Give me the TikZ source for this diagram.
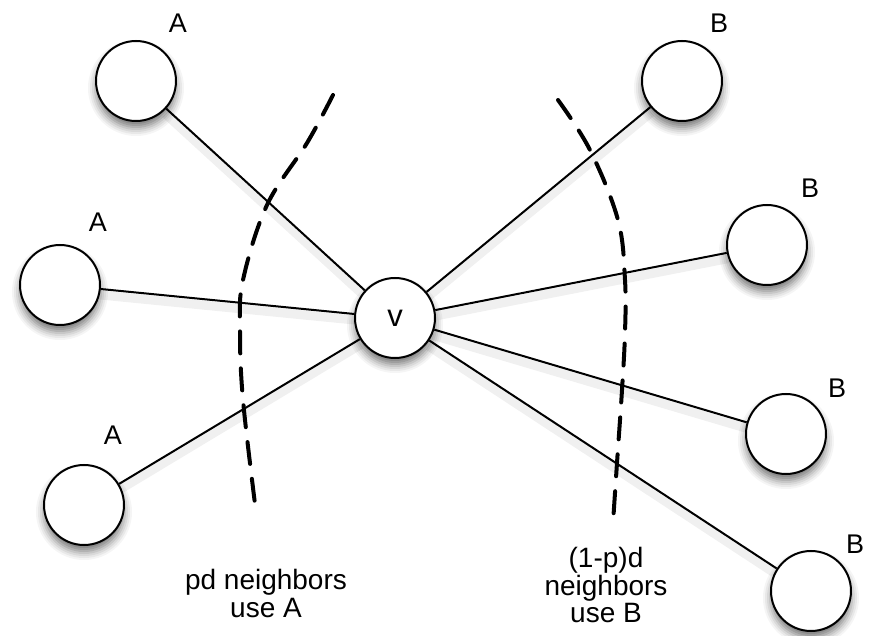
\documentclass[tikz,border=0pt]{standalone}
\usepackage{fontspec}
\setmainfont{Liberation Sans}
\usetikzlibrary{calc}
\begin{document}
\tikzset{
  vertex/.style={circle, draw=black, line width=2pt, fill=white,
    minimum size=80pt, inner sep=0pt, font=\fontsize{31}{31}\selectfont},
  disc/.style={circle, draw=none, inner sep=0pt},
  link/.style={line width=2pt, draw=black},
  linkshadow/.style={line width=9pt, draw=black, opacity=0.06},
  cut/.style={line width=4pt, dash pattern=on 22pt off 15pt, line cap=round},
  tag/.style={font=\fontsize{27}{27}\selectfont, anchor=base, inner sep=0pt},
  caption/.style={font=\fontsize{28}{27.5}\selectfont, align=center,
    inner sep=0pt, anchor=north},
}
\begin{tikzpicture}[x=1pt,y=-1pt]
\useasboundingbox (0,0) rectangle (871,636);

% vertex positions
\coordinate (pv)  at (395,318);
\coordinate (pa1) at (136,81);
\coordinate (pa2) at (60,285);
\coordinate (pa3) at (84,505);
\coordinate (pb1) at (682,81);
\coordinate (pb2) at (767,245);
\coordinate (pb3) at (786,434);
\coordinate (pb4) at (811,591);

% soft shadows under the vertices: nested grey discs, lightest outside
\foreach \p in {pv,pa1,pa2,pa3,pb1,pb2,pb3,pb4}{
  \node[disc, minimum size=96pt, fill=black!4]  (\p-s1) at ($(\p)+(0,7)$) {};
  \node[disc, minimum size=92pt, fill=black!9]  (\p-s2) at ($(\p)+(0,7)$) {};
  \node[disc, minimum size=88pt, fill=black!15] (\p-s3) at ($(\p)+(0,7)$) {};
  \node[disc, minimum size=84pt, fill=black!22] (\p-s4) at ($(\p)+(0,7)$) {};
  \node[disc, minimum size=80pt, fill=black!30] (\p-s5) at ($(\p)+(0,7)$) {};
  \node[disc, minimum size=76pt, fill=black!38] (\p-s6) at ($(\p)+(0,7)$) {};
  \node[disc, minimum size=72pt, fill=black!45] (\p-s7) at ($(\p)+(0,7)$) {};
}

% soft shadows under the edges
\foreach \p in {pa1,pa2,pa3,pb1,pb2,pb3,pb4}{
  \draw[linkshadow, shorten <=40pt, shorten >=40pt,
        transform canvas={yshift=-6pt}] (\p) -- (pv);
}

% central vertex and its neighbours
\node[vertex] (v)  at (pv)  {v};
\node[vertex] (a1) at (pa1) {};
\node[vertex] (a2) at (pa2) {};
\node[vertex] (a3) at (pa3) {};
\node[vertex] (b1) at (pb1) {};
\node[vertex] (b2) at (pb2) {};
\node[vertex] (b3) at (pb3) {};
\node[vertex] (b4) at (pb4) {};

% edges
\foreach \n in {a1,a2,a3,b1,b2,b3,b4}{
  \draw[link] (\n) -- (v);
}

% strategy labels
\node[tag] (la1) at (178,33)  {A};
\node[tag] (la2) at (98,232)  {A};
\node[tag] (la3) at (113,445) {A};
\node[tag] (lb1) at (719,33)  {B};
\node[tag] (lb2) at (810,198) {B};
\node[tag] (lb3) at (837,398) {B};
\node[tag] (lb4) at (855,553) {B};

% dashed cuts separating the two groups of neighbours
\draw[cut] plot[smooth, tension=0.6] coordinates
  {(333,95) (307,143) (267,205) (243,280) (240,330) (243,400) (256,512)};
\draw[cut] plot[smooth, tension=0.6] coordinates
  {(558,100) (590,150) (618,220) (625,280) (625,333) (622,390) (617,463) (613,523)};

% captions
\node[caption] (capA) at (266,569.5) {pd neighbors\\use A};
\node[caption] (capB) at (606,547.5) {(1-p)d\\neighbors\\use B};
\end{tikzpicture}
\end{document}
